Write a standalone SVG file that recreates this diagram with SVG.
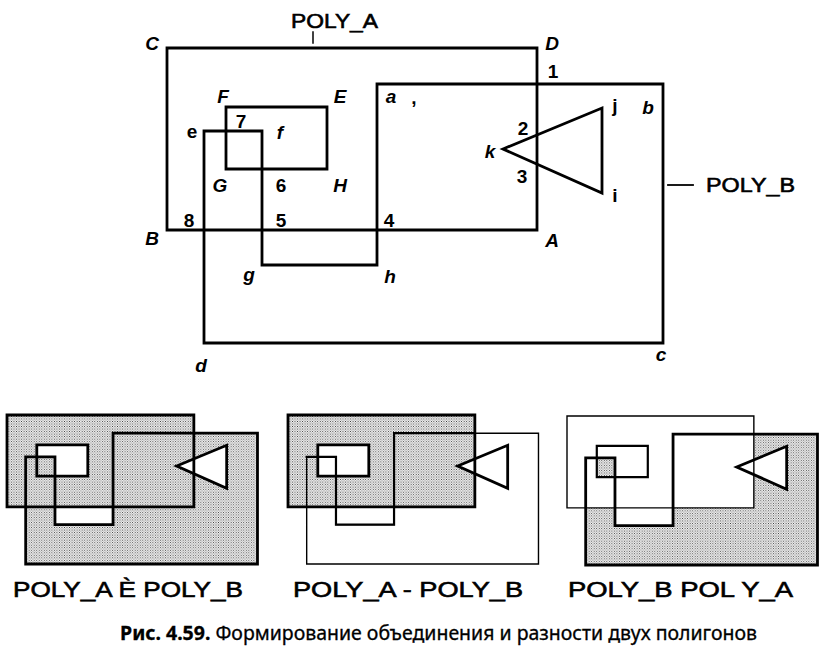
<svg xmlns="http://www.w3.org/2000/svg" xmlns:xlink="http://www.w3.org/1999/xlink" width="827" height="657" viewBox="0 0 827 657">
<style>
.ln{fill:none;stroke:#000;stroke-linejoin:miter;stroke-linecap:square}
.t{stroke-width:2.8}
.k{stroke-width:2.8}
.m{stroke-width:2.2}
.n{stroke-width:1.4}
.lb{font-family:"Liberation Sans",Arial,sans-serif;font-size:19px;font-weight:bold;text-anchor:middle;fill:#000}
.it{font-style:italic}
.pl{font-family:"Liberation Sans",Arial,sans-serif;font-size:20px;fill:#000;stroke:#000;stroke-width:0.6}
.cap{font-family:"Liberation Sans",Arial,sans-serif;font-size:22px;fill:#000;stroke:#000;stroke-width:0.6}
.fig{font-family:"Noto Sans","Open Sans",sans-serif;font-size:19px;fill:#000;stroke:#000;stroke-width:0.3}
</style>
<defs>
<pattern id="dots" width="5" height="5" patternUnits="userSpaceOnUse">
<rect width="5" height="5" fill="#f0f0f0"/>
<rect width="1.6" height="1.6" fill="#222"/>
<rect x="2.5" y="2.5" width="1.6" height="1.6" fill="#444"/>
</pattern>
<rect id="rA" x="167" y="48" width="370" height="182" fill="none" vector-effect="non-scaling-stroke"/>
<rect id="rH" x="226" y="107" width="101" height="62" fill="none" vector-effect="non-scaling-stroke"/>
<polygon id="pB" points="377,84 663,84 663,343 204,343 204,131 262,131 262,265 377,265" fill="none" vector-effect="non-scaling-stroke"/>
<polygon id="tri" points="503,149 602,108 602,193" fill="none" vector-effect="non-scaling-stroke"/>
</defs>
<rect width="827" height="657" fill="#fff"/>

<g id="connectors"></g>

<g id="poly-a">
<use xlink:href="#rA" class="ln t"/>
<use xlink:href="#rH" class="ln t"/>
<line x1="313" y1="32" x2="313" y2="43" class="ln" stroke-width="1.5"/>
<text class="pl" x="291" y="28" textLength="87" lengthAdjust="spacingAndGlyphs">POLY_A</text>
</g>

<g id="poly-b">
<use xlink:href="#pB" class="ln t"/>
<use xlink:href="#tri" class="ln t"/>
<line x1="668" y1="185" x2="693" y2="185" class="ln" stroke-width="1.8" stroke-linecap="butt"/>
<text class="pl" x="706" y="192" textLength="89" lengthAdjust="spacingAndGlyphs">POLY_B</text>
</g>

<g id="labels">
<text class="lb it" x="152" y="50">C</text>
<text class="lb it" x="152" y="245">B</text>
<text class="lb it" x="552" y="50">D</text>
<text class="lb it" x="552" y="247">A</text>
<text class="lb it" x="223" y="103">F</text>
<text class="lb it" x="340" y="103">E</text>
<text class="lb it" x="220" y="192">G</text>
<text class="lb it" x="340" y="192">H</text>
<text class="lb" x="241" y="128">7</text>
<text class="lb" x="192" y="138">e</text>
<text class="lb it" x="280" y="139">f</text>
<text class="lb" x="281" y="192">6</text>
<text class="lb" x="189" y="227">8</text>
<text class="lb" x="281" y="227">5</text>
<text class="lb" x="389" y="227">4</text>
<text class="lb it" x="391" y="103">a</text>
<text class="lb" x="414" y="104">,</text>
<text class="lb" x="553" y="78">1</text>
<text class="lb" x="523" y="135">2</text>
<text class="lb" x="522" y="183">3</text>
<text class="lb it" x="490" y="158">k</text>
<text class="lb" x="615" y="112">j</text>
<text class="lb it" x="648" y="114">b</text>
<text class="lb" x="615" y="202">i</text>
<text class="lb it" x="249" y="281">g</text>
<text class="lb it" x="390" y="283">h</text>
<text class="lb it" x="201" y="372">d</text>
<text class="lb it" x="661" y="361">c</text>
</g>

<g id="thumb-union">
<g transform="translate(7,415) scale(0.505) translate(-167,-48)">
<path fill="url(#dots)" fill-rule="evenodd" d="M167,48H537V84H663V343H204V230H167Z M226,107H327V169H262V131H226Z M262,230H377V265H262Z M503,149L602,108L602,193Z"/>
<use xlink:href="#rA" class="ln k"/>
<use xlink:href="#rH" class="ln k"/>
<use xlink:href="#pB" class="ln k"/>
<use xlink:href="#tri" class="ln k"/>
</g>
<text class="cap" x="13" y="597" textLength="230" lengthAdjust="spacingAndGlyphs">POLY_A È POLY_B</text>
</g>

<g id="thumb-diff-ab">
<g transform="translate(288,415) scale(0.505) translate(-167,-48)">
<path fill="url(#dots)" fill-rule="evenodd" d="M167,48H537V230H167Z M226,107H327V169H226Z M503,149L537,134.9L537,164.1Z"/>
<use xlink:href="#pB" class="ln n"/>
<polyline points="204,131 262,131 262,265 377,265 377,84 537,84" fill="none" class="ln m" vector-effect="non-scaling-stroke"/>
<use xlink:href="#rA" class="ln k"/>
<use xlink:href="#rH" class="ln k"/>
<use xlink:href="#tri" class="ln k"/>
</g>
<text class="cap" x="293" y="597" textLength="230" lengthAdjust="spacingAndGlyphs">POLY_A - POLY_B</text>
</g>

<g id="thumb-diff-ba">
<g transform="translate(567,416) scale(0.505) translate(-167,-48)">
<path fill="url(#dots)" fill-rule="evenodd" d="M537,84H663V343H204V230H262V265H377V230H537Z M226,131H262V169H226Z M537,134.9L602,108L602,193L537,164.1Z"/>
<use xlink:href="#rA" class="ln n"/>
<use xlink:href="#rH" class="ln m"/>
<use xlink:href="#pB" class="ln k"/>
<use xlink:href="#tri" class="ln k"/>
</g>
<text class="cap" x="568" y="597" textLength="225" lengthAdjust="spacingAndGlyphs">POLY_B POL Y_A</text>
</g>

<g id="caption">
<text class="fig" x="120" y="640" textLength="637" lengthAdjust="spacingAndGlyphs"><tspan font-weight="bold">Рис. 4.59.</tspan> Формирование объединения и разности двух полигонов</text>
</g>
</svg>
